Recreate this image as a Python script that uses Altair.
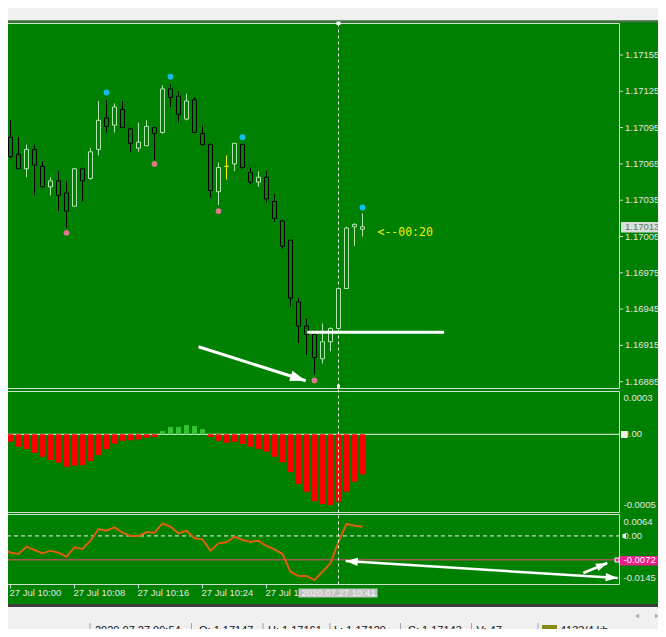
import altair as alt
import pandas as pd

# ---------------- values ----------------
minutes = list(range(-1, 45))  # bar open time, minutes after 10:00 (09:59 ... 10:44)

opens = [1.17070, 1.17087, 1.17073, 1.17061, 1.17077, 1.17063, 1.17046, 1.17051, 1.17041, 1.17030,
         1.17061, 1.17053, 1.17077, 1.17103, 1.17097, 1.17110, 1.17094, 1.17078, 1.17080, 1.17095,
         1.17091, 1.17127, 1.17121, 1.17102, 1.17118, 1.17090, 1.17081, 1.17042, 1.17063, 1.17065,
         1.17081, 1.17058, 1.17050, 1.17054, 1.17034, 1.17018, 1.17002, 1.16951, 1.16931, 1.16924,
         1.16904, 1.16918, 1.16929, 1.16962, 1.17013, 1.17011]
highs = [1.17088, 1.17101, 1.17087, 1.17081, 1.17081, 1.17067, 1.17054, 1.17059, 1.17051, 1.17061,
         1.17061, 1.17078, 1.17117, 1.17118, 1.17115, 1.17117, 1.17095, 1.17099, 1.17101, 1.17095,
         1.17130, 1.17131, 1.17125, 1.17123, 1.17120, 1.17097, 1.17082, 1.17066, 1.17072, 1.17082,
         1.17081, 1.17062, 1.17059, 1.17059, 1.17040, 1.17018, 1.17002, 1.16954, 1.16937, 1.16924,
         1.16933, 1.16930, 1.16962, 1.17013, 1.17016, 1.17024]
lows = [1.17067, 1.17070, 1.17061, 1.17054, 1.17039, 1.17046, 1.17039, 1.17026, 1.17012, 1.17030,
        1.17034, 1.17052, 1.17072, 1.17091, 1.17091, 1.17095, 1.17075, 1.17075, 1.17080, 1.17068,
        1.17090, 1.17112, 1.17099, 1.17101, 1.17091, 1.17080, 1.17037, 1.17031, 1.17052, 1.17059,
        1.17061, 1.17048, 1.17046, 1.17033, 1.17017, 1.16995, 1.16947, 1.16917, 1.16907, 1.16891,
        1.16900, 1.16910, 1.16929, 1.16962, 1.16997, 1.17005]
closes = [1.17086, 1.17071, 1.17061, 1.17077, 1.17064, 1.17046, 1.17051, 1.17039, 1.17026, 1.17061,
          1.17051, 1.17075, 1.17101, 1.17096, 1.17112, 1.17095, 1.17082, 1.17083, 1.17096, 1.17090,
          1.17127, 1.17120, 1.17106, 1.17117, 1.17091, 1.17081, 1.17043, 1.17062, 1.17063, 1.17082,
          1.17062, 1.17050, 1.17054, 1.17036, 1.17020, 1.16997, 1.16954, 1.16931, 1.16924, 1.16905,
          1.16918, 1.16929, 1.16962, 1.17012, 1.17015, 1.17013]

fractal_up_min = [12, 20, 29, 44]
fractal_up_price = [1.17124, 1.17137, 1.17087, 1.17029]
fractal_dn_min = [7, 18, 26, 38]
fractal_dn_price = [1.17008, 1.17065, 1.17026, 1.16886]

macd_hist = [-0.00003, -0.00005, -0.000083, -0.000098, -0.000123, -0.00015, -0.000172, -0.00019, -0.000217, -0.00021,
             -0.000206, -0.000179, -0.000139, -0.0001, -0.000063, -0.000043, -0.00004, -0.000034, -0.000023, -0.000018,
             0.000022, 0.000049, 0.000049, 0.000062, 0.000056, 0.000035, -0.000018, -0.000043, -0.000056, -0.00005,
             -0.000065, -0.000083, -0.000098, -0.000116, -0.00015, -0.000187, -0.000254, -0.000333, -0.000384, -0.000447,
             -0.000467, -0.000473, -0.000451, -0.000384, -0.000317, -0.000268]

osc = [-0.00375, -0.00506, -0.00546, -0.00325, -0.00425, -0.00526, -0.00445, -0.00506, -0.00626, -0.00345,
       -0.00395, -0.00144, 0.00208, 0.00158, 0.00258, 0.00097, -0.00003, -0.00003, 0.00118, 0.00097,
       0.00379, 0.00278, 0.00077, 0.00158, -0.00073, -0.00103, -0.00445, -0.00224, -0.00194, -0.00023,
       -0.00124, -0.00174, -0.00144, -0.00305, -0.00405, -0.00546, -0.01079, -0.01209, -0.01209, -0.0133,
       -0.01079, -0.0082, -0.0018, 0.00359, 0.00308, 0.00277]

price_ticks = [1.17155, 1.17125, 1.17095, 1.17065, 1.17035, 1.17005, 1.16975, 1.16945, 1.16915, 1.16885]
macd_ticks = [0.0003, 0.0, -0.0005]
macd_tick_labels = ["0.0003", "0.00", "-0.0005"]
osc_ticks = [0.0064, 0.0, -0.0072, -0.0145]
osc_tick_labels = ["0.0064", "0.00", "-0.0072", "-0.0145"]
time_ticks = [0, 8, 16, 24, 32]
time_labels = ["27 Jul 10:00", "27 Jul 10:08", "27 Jul 10:16", "27 Jul 10:24", "27 Jul 10:32"]

current_price = 1.17013
current_price_label = "1.17013"
vline_minute = 41
vline_label = "2020.07.27 10:41"
timer_text = "<--00:20"
osc_level = -0.0072
support_line = [(37.1, 54.2, 1.169258)]          # start minute, end minute, price
price_arrow = [(23.5, 1.169139, 36.9, 1.168858)]  # from (minute, price) to (minute, price)
osc_arrow = [(41.9, -0.00757, 75.9, -0.0127)]
osc_arrow2 = [(71.6, -0.01119, 74.6, -0.00817)]
status_texts = ["2020.07.27 09:54", "O: 1.17147", "H: 1.17161", "L: 1.17129", "C: 1.17143", "V: 47", "4133/4 kb"]

# ---------------- styles / layout ----------------
GREEN = "#008000"
BULL = "#b4e4b4"
BEAR = "#000000"
DOJI = "#ffff00"
FRAME = "#cfe0cf"
LABEL = "#e4e4e4"
FONT = "Liberation Sans"
W, H = 650, 621

XS = alt.Scale(domain=[0, 44], range=[2.5, 354.5], nice=False, zero=False, padding=0)
YP = alt.Scale(domain=[1.16885, 1.17155], range=[373.7, 47.0], nice=False, zero=False, padding=0)
YM = alt.Scale(domain=[-0.0005, 0.0003], range=[501.0, 381.5], nice=False, zero=False, padding=0)
YO = alt.Scale(domain=[-0.0145, 0.0064], range=[576.0, 506.7], nice=False, zero=False, padding=0)


def X(f):
    return alt.X(f"{f}:Q", scale=XS, axis=None)


def Y(f, s):
    return alt.Y(f"{f}:Q", scale=s, axis=None)


one = pd.DataFrame({"k": [0]})


def deco_rect(x, x2, y, y2, **kw):
    return alt.Chart(one).mark_rect(**kw).encode(
        x=alt.value(x), x2=alt.value(x2), y=alt.value(y), y2=alt.value(y2))


def deco_rule(x, x2, y, y2, **kw):
    return alt.Chart(one).mark_rule(**kw).encode(
        x=alt.value(x), x2=alt.value(x2), y=alt.value(y), y2=alt.value(y2))


def deco_text(x, y, txt, **kw):
    return alt.Chart(one).mark_text(text=txt, **kw).encode(x=alt.value(x), y=alt.value(y))


kinds = ["bull" if c > o else ("bear" if c < o else "doji") for o, c in zip(opens, closes)]
cdf = pd.DataFrame({"m": minutes, "o": opens, "h": highs, "l": lows, "c": closes, "kind": kinds})
KS = alt.Scale(domain=["bull", "bear", "doji"], range=[BULL, BEAR, DOJI])

mdf = pd.DataFrame({"m": minutes, "v": macd_hist, "z": [0.0] * len(minutes),
                    "s": ["pos" if v > 0 else "neg" for v in macd_hist]})
odf = pd.DataFrame({"m": minutes, "v": osc})

layers = []
# window chrome
layers.append(deco_rect(0, W, 0, 12.5, color="#f0f0f0"))
layers.append(deco_rect(0, W, 12.5, 14.5, color="#4d6b4d"))
layers.append(deco_rect(0, W, 596, 599, color="#3c3c3c"))
layers.append(deco_rect(0, W, 599, H, color="#f0f0f0"))

# panel frames
for (y0, y1) in [(15.5, 380.5), (383.5, 504.5), (506.5, 576.5)]:
    layers.append(deco_rect(-1, 611.5, y0, y1, fillOpacity=0, stroke=FRAME, strokeWidth=1))

# axis tick marks (right side)
ptick = pd.DataFrame({"p": price_ticks, "t": [f"{p:.5f}" for p in price_ticks]})
layers.append(alt.Chart(ptick).mark_rule(color=FRAME).encode(
    x=alt.value(611.5), x2=alt.value(615), y=Y("p", YP)))

# macd zero line + histogram
layers.append(alt.Chart(pd.DataFrame({"v": [0.0]})).mark_rule(color="#f4f4f4", strokeWidth=1).encode(
    x=alt.value(-1), x2=alt.value(611.5), y=Y("v", YM)))
layers.append(alt.Chart(mdf).mark_rule(strokeWidth=5).encode(
    x=X("m"), y=Y("v", YM), y2="z:Q",
    color=alt.Color("s:N", scale=alt.Scale(domain=["pos", "neg"], range=["#33c433", "#ff0000"]), legend=None)))

# oscillator: zero dashed, level line, curve
layers.append(alt.Chart(pd.DataFrame({"v": [0.0]})).mark_rule(color="#f0f0f0", strokeDash=[4, 3]).encode(
    x=alt.value(-1), x2=alt.value(611.5), y=Y("v", YO)))
layers.append(alt.Chart(pd.DataFrame({"v": [osc_level]})).mark_rule(color="#a35a4e", strokeWidth=1.5).encode(
    x=alt.value(-1), x2=alt.value(611.5), y=Y("v", YO)))
layers.append(alt.Chart(odf).mark_line(color="#dc5f0c", strokeWidth=2).encode(x=X("m"), y=Y("v", YO)))

# vertical dashed line
layers.append(alt.Chart(pd.DataFrame({"m": [vline_minute]})).mark_rule(
    color="#f0f0f0", strokeDash=[3, 3], strokeWidth=1).encode(x=X("m"), y=alt.value(15.5), y2=alt.value(576)))

# candles
layers.append(alt.Chart(cdf).mark_rule(strokeWidth=1).encode(
    x=X("m"), y=Y("h", YP), y2="l:Q", color=alt.Color("kind:N", scale=KS, legend=None)))
layers.append(alt.Chart(cdf).mark_bar(size=4, fill=GREEN, strokeWidth=1).encode(
    x=X("m"), y=Y("o", YP), y2="c:Q", stroke=alt.Stroke("kind:N", scale=KS, legend=None)))

# fractals
layers.append(alt.Chart(pd.DataFrame({"m": fractal_up_min, "p": fractal_up_price})).mark_circle(
    size=34, color="#0fbfee", opacity=1).encode(x=X("m"), y=Y("p", YP)))
layers.append(alt.Chart(pd.DataFrame({"m": fractal_dn_min, "p": fractal_dn_price})).mark_circle(
    size=34, color="#d9788f", opacity=1).encode(x=X("m"), y=Y("p", YP)))

# support line and arrows
sdf = pd.DataFrame(support_line, columns=["m0", "m1", "p"])
layers.append(alt.Chart(sdf).mark_rule(color="white", strokeWidth=3).encode(
    x=X("m0"), x2="m1:Q", y=Y("p", YP)))

HEAD = "M0,0L0.55,1.6L-0.55,1.6Z"


def arrow(rows, ys, heads, width=3, hsize=380):
    df = pd.DataFrame(rows, columns=["m0", "v0", "m1", "v1"])
    out = [alt.Chart(df).mark_rule(color="white", strokeWidth=width).encode(
        x=X("m0"), x2="m1:Q", y=Y("v0", ys), y2="v1:Q")]
    for (which, ang) in heads:
        mf, vf = ("m1", "v1") if which == "end" else ("m0", "v0")
        out.append(alt.Chart(df).mark_point(shape=HEAD, filled=True, color="white", opacity=1,
                                            size=hsize, angle=ang).encode(x=X(mf), y=Y(vf, ys)))
    return out


layers += arrow(price_arrow, YP, [("end", 108)], width=3, hsize=380)
layers += arrow(osc_arrow, YO, [("start", 274), ("end", 94)], width=2.5, hsize=230)
layers += arrow(osc_arrow2, YO, [("end", 67)], width=2.5, hsize=200)

# timer text
layers.append(deco_text(369.5, 225, timer_text, font="DejaVu Sans Mono", fontSize=11.5,
                        color="#f0f000", align="left", baseline="middle"))

# price labels
layers.append(alt.Chart(ptick).mark_text(align="left", baseline="middle", font=FONT, fontSize=9.5,
                                         color=LABEL).encode(x=alt.value(617), y=Y("p", YP), text="t:N"))
# current price box
cp = pd.DataFrame({"p": [current_price], "t": [current_price_label]})
layers.append(deco_rect(613, 652, 214, 224.5, color="#dcdcdc"))
layers.append(alt.Chart(cp).mark_text(align="left", baseline="middle", font=FONT, fontSize=9.5,
                                      color="#52805a").encode(x=alt.value(617), y=Y("p", YP), text="t:N"))

# macd labels
layers.append(deco_rect(613, 619.5, 423, 430, color="#f4f4f4"))
for v, t, dy in zip(macd_ticks, macd_tick_labels, [8, 0, -4]):
    layers.append(alt.Chart(pd.DataFrame({"v": [v], "t": [t]})).mark_text(
        align="left", baseline="middle", font=FONT, fontSize=9.5, color=LABEL, dy=dy).encode(
        x=alt.value(615.5), y=Y("v", YM), text="t:N"))

# oscillator labels
layers.append(deco_rect(612, 652, 548, 557.5, color="#e8208a"))
layers.append(deco_rect(607, 611, 550, 554, color="#e8208a", stroke="white", strokeWidth=1))
layers.append(deco_rect(614.5, 618, 526, 530, color="#f4f4f4"))
for v, t, dy, col in zip(osc_ticks, osc_tick_labels, [7, 0, 0, -6], [LABEL, LABEL, "#ffffff", LABEL]):
    layers.append(alt.Chart(pd.DataFrame({"v": [v], "t": [t]})).mark_text(
        align="left", baseline="middle", font=FONT, fontSize=9.5, color=col, dy=dy).encode(
        x=alt.value(615.5), y=Y("v", YO), text="t:N"))

# time axis
tdf = pd.DataFrame({"m": time_ticks, "t": time_labels})
layers.append(alt.Chart(tdf).mark_rule(color=FRAME).encode(x=X("m"), y=alt.value(576.5), y2=alt.value(580.5)))
layers.append(alt.Chart(tdf).mark_text(align="left", baseline="middle", font=FONT, fontSize=9.5,
                                       color=LABEL, dx=-1).encode(x=X("m"), y=alt.value(585), text="t:N"))
layers.append(deco_rect(290.5, 369.5, 580.5, 589.5, color="#c4c4c4"))
layers.append(alt.Chart(pd.DataFrame({"m": [vline_minute], "t": [vline_label]})).mark_text(
    align="center", baseline="middle", font=FONT, fontSize=9.5, color="#f4f4f4").encode(
    x=X("m"), y=alt.value(585), text="t:N"))
layers.append(deco_rect(328.5, 332.5, 13.5, 17, color="white"))
layers.append(deco_rect(329, 332, 376.5, 380, color="white"))

# scroll arrows and status bar
layers.append(alt.Chart(one).mark_point(shape="triangle-left", filled=True, size=22, color="#a8a8a8",
                                        opacity=1).encode(x=alt.value(629), y=alt.value(608)))
layers.append(alt.Chart(one).mark_point(shape="triangle-right", filled=True, size=22, color="#a8a8a8",
                                        opacity=1).encode(x=alt.value(649), y=alt.value(608)))
sep_x = [82, 183.5, 255, 322, 392.5, 463.5, 530]
text_x = [87, 191, 260, 326, 400, 468.5, 552]
for sx in sep_x:
    layers.append(deco_rule(sx, sx, 615, H, color="#a0a0a0"))
layers.append(deco_rect(534, 549, 617, H, color="#8a8a10"))
for tx, txt in zip(text_x, status_texts):
    layers.append(deco_text(tx, 617, txt, font=FONT, fontSize=11, color="#101010",
                            align="left", baseline="top"))

chart = alt.layer(*layers).resolve_scale(
    y="independent", color="independent", stroke="independent"
).properties(
    width=W, height=H, padding=0, background=GREEN,
    autosize=alt.AutoSizeParams(type="none")
).configure_view(stroke="transparent")

chart.save("out.html", embed_options={"renderer": "svg", "actions": False})
